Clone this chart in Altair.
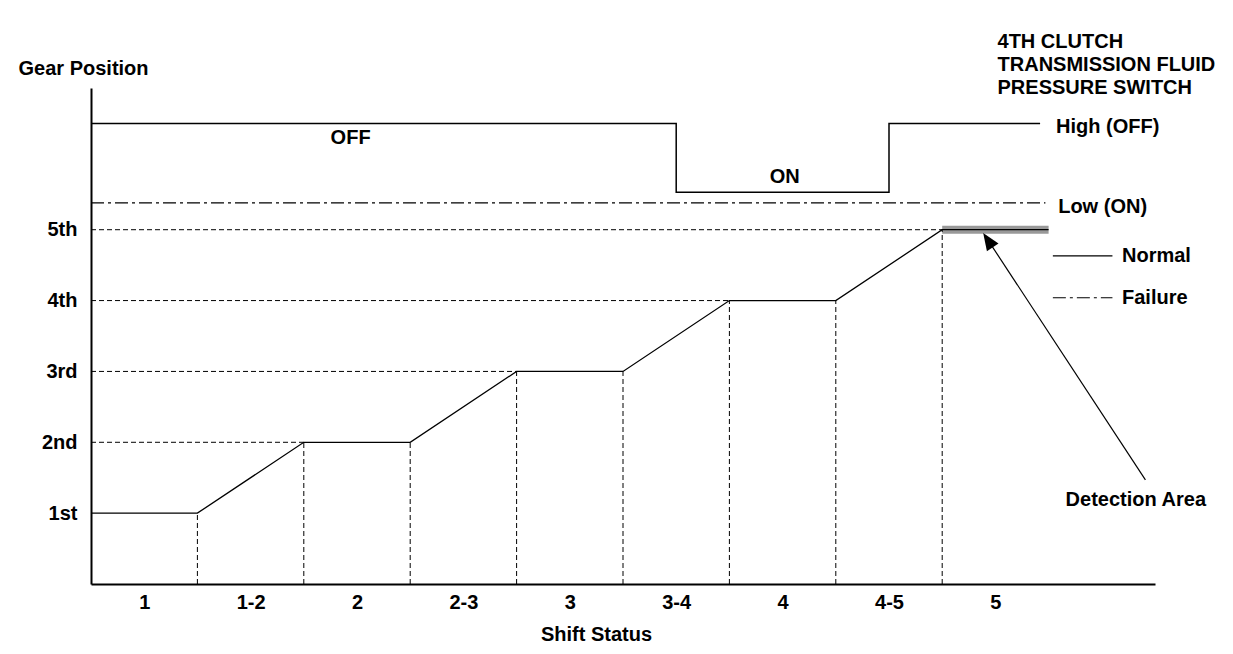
import json
import altair as alt
import pandas as pd

# ---- data ----
shift_labels = ["1", "1-2", "2", "2-3", "3", "3-4", "4", "4-5", "5"]
gear_labels = ["1st", "2nd", "3rd", "4th", "5th"]

# normal gear-position trace (shift status position, gear level)
gear_x = [0, 1, 2, 3, 4, 5, 6, 7, 8, 9]
gear_y = [1, 1, 2, 2, 3, 3, 4, 4, 5, 5]

# 4th clutch pressure switch trace
ps_x = [0, 5.5, 5.5, 7.5, 7.5, 8.92]
ps_y = [6.5, 6.5, 5.53, 5.53, 6.5, 6.5]
low_on_level = 5.38
low_on_end = 8.97

# detection area (failure window at 5th)
detect_x = [8, 9]
detect_y = 5

FONT = "Liberation Sans"
BLACK = "#000000"

xs = alt.Scale(domain=[0, 10], zero=False, nice=False)
ys = alt.Scale(domain=[0, 7], zero=False, nice=False)

x_label_expr = "%s[floor(datum.value)]" % json.dumps(shift_labels)
y_label_expr = "%s[datum.value - 1]" % json.dumps(gear_labels)

axis_common = dict(grid=False, ticks=False, domainColor=BLACK, domainWidth=2,
                   labelFont=FONT, labelFontWeight="bold", labelFontSize=20,
                   labelColor=BLACK, titleFont=FONT, titleFontWeight="bold",
                   titleFontSize=20, titleColor=BLACK)
x_axis = alt.Axis(values=[i + 0.5 for i in range(len(shift_labels))],
                  labelExpr=x_label_expr, labelPadding=8,
                  titleX=505, titleY=50, titleAlign="center",
                  titleBaseline="middle", **axis_common)
y_axis = alt.Axis(values=list(range(1, len(gear_labels) + 1)),
                  labelExpr=y_label_expr, labelPadding=14,
                  titleAngle=0, titleX=-73, titleY=-20,
                  titleAlign="left", titleBaseline="middle", **axis_common)


def X(f="x"):
    return alt.X(f + ":Q", scale=xs, title="Shift Status", axis=x_axis)


def Y(f="y"):
    return alt.Y(f + ":Q", scale=ys, title="Gear Position", axis=y_axis)


# ---- tables ----
gear_df = pd.DataFrame({"x": gear_x, "y": gear_y, "o": range(len(gear_x))})
ps_df = pd.DataFrame({"x": ps_x, "y": ps_y, "o": range(len(ps_x))})

vdash = pd.DataFrame({"x": gear_x[1:-1], "y": [0] * (len(gear_x) - 2), "y2": gear_y[1:-1]})
hrows = []
for g in range(2, len(gear_labels) + 1):
    first = min(xv for xv, yv in zip(gear_x, gear_y) if yv == g)
    hrows.append({"x": 0, "x2": first, "y": g})
hdash = pd.DataFrame(hrows)

detect_df = pd.DataFrame({"x": [detect_x[0]], "x2": [detect_x[1]], "y": [detect_y]})
detect = alt.Chart(detect_df).mark_rule(color="#999999", strokeWidth=8, strokeCap="butt").encode(
    x=X(), x2="x2:Q", y=Y())

gear_line = alt.Chart(gear_df).mark_line(color=BLACK, strokeWidth=1.3).encode(
    x=X(), y=Y(), order="o:Q")

vlines = alt.Chart(vdash).mark_rule(color=BLACK, strokeWidth=1, strokeDash=[5, 3]).encode(
    x=X(), y=Y(), y2="y2:Q")
hlines = alt.Chart(hdash).mark_rule(color=BLACK, strokeWidth=1, strokeDash=[5, 3]).encode(
    x=X(), x2="x2:Q", y=Y())

ps_line = alt.Chart(ps_df).mark_line(color=BLACK, strokeWidth=1.5).encode(
    x=X(), y=Y(), order="o:Q")

low_df = pd.DataFrame({"x": [0], "x2": [low_on_end], "y": [low_on_level]})
low_line = alt.Chart(low_df).mark_rule(color=BLACK, strokeWidth=1.2, strokeDash=[13, 4, 3, 4]).encode(
    x=X(), x2="x2:Q", y=Y())

# legend samples
leg_df = pd.DataFrame({"x": [9.04], "x2": [9.60], "y": [4.63]})
leg_normal = alt.Chart(leg_df).mark_rule(color=BLACK, strokeWidth=1.2).encode(
    x=X(), x2="x2:Q", y=Y())
leg_df2 = pd.DataFrame({"x": [9.04], "x2": [9.60], "y": [4.04]})
leg_fail = alt.Chart(leg_df2).mark_rule(color=BLACK, strokeWidth=1.2, strokeDash=[13, 4, 3, 4]).encode(
    x=X(), x2="x2:Q", y=Y())

# arrow to detection area
arrow_df = pd.DataFrame({"x": [9.91, 8.41], "y": [1.47, 4.90], "o": [0, 1]})
arrow_line = alt.Chart(arrow_df).mark_line(color=BLACK, strokeWidth=1.2).encode(
    x=X(), y=Y(), order="o:Q")
head_df = pd.DataFrame({"x": [8.43], "y": [4.853]})
arrow_head = alt.Chart(head_df).mark_point(
    shape="M0,-1L0.8,1L-0.8,1Z", size=300, angle=326.7, filled=True,
    color=BLACK, opacity=1).encode(x=X(), y=Y())

# text annotations
centre_text = pd.DataFrame({
    "x": [2.44, 6.52],
    "y": [6.29, 5.74],
    "t": ["OFF", "ON"],
})
left_text = pd.DataFrame({
    "x": [9.07, 9.09, 9.69, 9.69, 9.16, 8.52, 8.52, 8.52],
    "y": [6.45, 5.32, 4.63, 4.036, 1.185, 7.65, 7.325, 7.0],
    "t": ["High (OFF)", "Low (ON)", "Normal", "Failure", "Detection Area",
          "4TH CLUTCH", "TRANSMISSION FLUID", "PRESSURE SWITCH"],
})
txt_c = alt.Chart(centre_text).mark_text(font=FONT, fontWeight="bold", fontSize=20,
                                         color=BLACK, align="center", baseline="middle").encode(
    x=X(), y=Y(), text="t:N")
txt_l = alt.Chart(left_text).mark_text(font=FONT, fontWeight="bold", fontSize=20,
                                       color=BLACK, align="left", baseline="middle").encode(
    x=X(), y=Y(), text="t:N")

chart = alt.layer(
    detect, gear_line, vlines, hlines, ps_line, low_line, leg_normal, leg_fail,
    arrow_line, arrow_head, txt_c, txt_l,
).properties(
    width=1064, height=496,
    autosize=alt.AutoSizeParams(type="none"),
    padding={"left": 83, "top": 80, "right": 70, "bottom": 60},
    background="white",
).configure_view(stroke=None)

chart.save("out.html", embed_options={"renderer": "svg", "actions": False})
